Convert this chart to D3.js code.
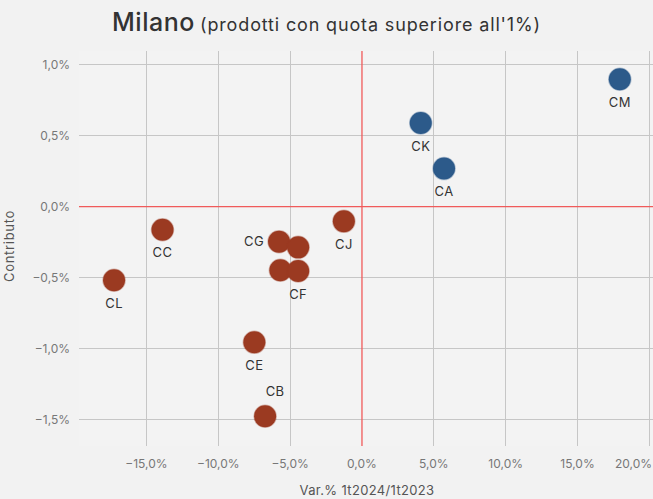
<!DOCTYPE html>
<html><head><meta charset="utf-8">
<script src="https://cdn.jsdelivr.net/npm/d3@7"></script>
<style>
html,body{margin:0;padding:0;background:#f2f2f2;}
svg{display:block;font-family:Inter,"Noto Sans",sans-serif;}
</style></head>
<body><svg id="chart" width="653" height="499"></svg>
<script>
// ---- data ----
const codes = ["CM","CK","CA","CJ","CC","CG",null,null,"CF","CL","CE","CB"];
const varPct = [17.94, 4.09, 5.71, -1.26, -13.88, -5.77, -4.44, -5.68, -4.44, -17.25, -7.49, -6.74];
const contributo = [0.896, 0.589, 0.268, -0.103, -0.162, -0.246, -0.286, -0.447, -0.452, -0.517, -0.954, -1.474];
const xTicks = [-15, -10, -5, 0, 5, 10, 15, 20];
const yTicks = [-1.5, -1.0, -0.5, 0, 0.5, 1.0];
const titleMain = "Milano";
const titleSub = "(prodotti con quota superiore all'1%)";
const xTitle = "Var.% 1t2024/1t2023";
const yTitle = "Contributo";

// ---- layout ----
const svg = d3.select("#chart");
const L = 79, R = 653, T = 51, B = 446;
const x = d3.scaleLinear().domain([-19.69, 20.25]).range([L, R]);
const y = d3.scaleLinear().domain([-1.683, 1.095]).range([B, T]);
const loc = d3.formatLocale({decimal: ",", thousands: ".", grouping: [3], currency: ["", "€"], minus: "\u2212"});
const fmt = v => loc.format(".1%")(v / 100);

const posColor = "#2c5a8a", negColor = "#9b3a21";
const gridColor = "#c6c6c6", zeroColor = "#f05a5a", tickColor = "#777";

// stretch a text to a target width via letter-spacing (mimics wider original font)
function fit(sel, w) {
  const n = sel.text().length;
  const cur = sel.node().getComputedTextLength();
  sel.attr("letter-spacing", ((w - cur) / n).toFixed(2));
}

svg.append("rect").attr("x", L).attr("y", T).attr("width", R - L).attr("height", B - T).attr("fill", "#f3f3f3");

// grid
const g = svg.append("g");
g.selectAll(".vx").data(xTicks.filter(d => d !== 0)).join("line")
  .attr("x1", d => x(d)).attr("x2", d => x(d)).attr("y1", T).attr("y2", B)
  .attr("stroke", gridColor).attr("stroke-width", 1).attr("shape-rendering", "crispEdges");
g.selectAll(".hy").data(yTicks.filter(d => d !== 0)).join("line")
  .attr("y1", d => y(d)).attr("y2", d => y(d)).attr("x1", L).attr("x2", R)
  .attr("stroke", gridColor).attr("stroke-width", 1).attr("shape-rendering", "crispEdges");
g.append("line").attr("x1", x(0)).attr("x2", x(0)).attr("y1", T).attr("y2", B)
  .attr("stroke", zeroColor).attr("stroke-width", 1.3);
g.append("line").attr("y1", y(0)).attr("y2", y(0)).attr("x1", L).attr("x2", R)
  .attr("stroke", zeroColor).attr("stroke-width", 1.3);

// tick labels
const last = xTicks[xTicks.length - 1];
svg.append("g").selectAll("text").data(xTicks).join("text")
  .attr("x", d => d === last ? R - 1 : x(d)).attr("y", 468)
  .attr("text-anchor", d => d === last ? "end" : "middle")
  .attr("font-size", 12).attr("fill", tickColor).text(fmt);
svg.append("g").selectAll("text").data(yTicks).join("text")
  .attr("x", 70).attr("y", d => y(d)).attr("dy", "0.35em").attr("text-anchor", "end")
  .attr("font-size", 12).attr("fill", tickColor).text(fmt);

// axis titles
const xt = svg.append("text").attr("x", 367).attr("y", 495).attr("text-anchor", "middle")
  .attr("font-size", 13).attr("fill", "#555").text(xTitle);
fit(xt, 135);
const yt = svg.append("text").attr("transform", "translate(14,246) rotate(-90)").attr("text-anchor", "middle")
  .attr("font-size", 13).attr("fill", "#555").text(yTitle);
fit(yt, 72);

// points
const pts = codes.map((c, i) => ({c, vx: varPct[i], vy: contributo[i]}));
svg.append("g").selectAll("circle").data(pts).join("circle")
  .attr("cx", d => x(d.vx)).attr("cy", d => y(d.vy)).attr("r", 11)
  .attr("fill", d => d.vy >= 0 ? posColor : negColor)
  .attr("stroke", d => d.vy >= 0 ? posColor : negColor).attr("stroke-opacity", 0.35).attr("stroke-width", 1.5);

// labels
const placement = {CG: "left", CB: "above"};
svg.append("g").selectAll("text").data(pts.filter(d => d.c)).join("text")
  .attr("x", d => placement[d.c] === "left" ? x(d.vx) - 15 : placement[d.c] === "above" ? x(d.vx) + 10 : x(d.vx))
  .attr("y", d => placement[d.c] === "left" ? y(d.vy) : placement[d.c] === "above" ? y(d.vy) - 25 : y(d.vy) + 23)
  .attr("dy", "0.36em")
  .attr("text-anchor", d => placement[d.c] === "left" ? "end" : "middle")
  .attr("font-size", 13).attr("letter-spacing", 0.4).attr("fill", "#333").text(d => d.c);

// title
const t1 = svg.append("text").attr("x", 112).attr("y", 31).attr("fill", "#333")
  .attr("font-size", 25).attr("font-weight", 500).text(titleMain);
fit(t1, 83);
const t2 = svg.append("text").attr("x", 200).attr("y", 31).attr("fill", "#333")
  .attr("font-size", 18).text(titleSub);
fit(t2, 341);
</script></body></html>
